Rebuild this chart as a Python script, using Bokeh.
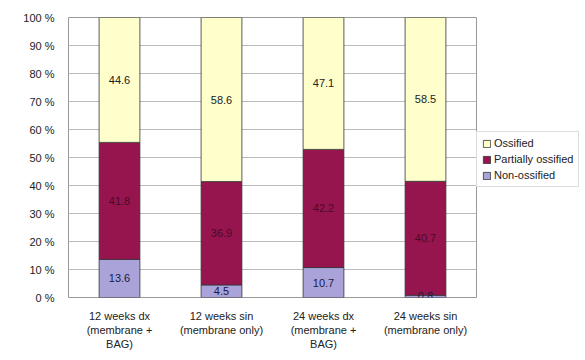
from bokeh.plotting import figure
from bokeh.models import ColumnDataSource, Legend, LegendItem, FixedTicker, CustomJSTickFormatter
from bokeh.core.properties import value
from bokeh.embed import file_html
from bokeh.resources import INLINE

categories = ["12 weeks dx\n(membrane +\nBAG)", "12 weeks sin\n(membrane only)",
              "24 weeks dx\n(membrane +\nBAG)", "24 weeks sin\n(membrane only)"]
non_ossified = [13.6, 4.5, 10.7, 0.8]
partially_ossified = [41.8, 36.9, 42.2, 40.7]
ossified = [44.6, 58.6, 47.1, 58.5]
series_names = ["Non-ossified", "Partially ossified", "Ossified"]
y_ticks = [0, 10, 20, 30, 40, 50, 60, 70, 80, 90, 100]

colors = ["#A9A3DA", "#96154F", "#FFFFCC"]
FONT = "Liberation Sans"

src = ColumnDataSource(dict(cat=categories, non=non_ossified, part=partially_ossified, oss=ossified))

p = figure(x_range=categories, y_range=(0, 100), width=585, height=360,
           frame_width=408, frame_height=280,
           output_backend="svg", toolbar_location=None,
           min_border_left=68, min_border_right=0, min_border_top=17, min_border_bottom=63)

rs = p.vbar_stack(["non", "part", "oss"], x="cat", width=0.4, source=src,
                  color=colors, line_color="#333333", line_width=0.8)

# labels at segment midpoints
mids_x, mids_y, texts, tcol = [], [], [], []
for i, c in enumerate(categories):
    base = 0
    for vals, col in zip([non_ossified, partially_ossified, ossified], ["#1a1a40", "#4a0a26", "#222222"]):
        v = vals[i]
        mids_x.append(c)
        mids_y.append(base + v / 2)
        texts.append(f"{v:.1f}")
        tcol.append(col)
        base += v
p.text(x=mids_x, y=mids_y, text=texts, text_color=tcol, text_align="center",
       text_baseline="middle", text_font=value(FONT), text_font_size="11px")

p.yaxis.ticker = FixedTicker(ticks=y_ticks)
p.yaxis.formatter = CustomJSTickFormatter(code="return tick + ' %';")
p.yaxis.major_label_text_font = FONT
p.yaxis.major_label_text_font_size = "11px"
p.yaxis.major_label_text_color = "#222222"
p.yaxis.axis_line_color = None
p.yaxis.major_tick_line_color = None
p.yaxis.minor_tick_line_color = None
p.yaxis.major_label_standoff = 8

p.xaxis.major_label_text_font = FONT
p.xaxis.major_label_text_font_size = "11px"
p.xaxis.major_label_text_color = "#222222"
p.xaxis.axis_line_color = None
p.xaxis.major_tick_line_color = None
p.xaxis.major_label_standoff = 6

p.xgrid.grid_line_color = None
p.ygrid.grid_line_color = "#BBBBBB"
p.ygrid.grid_line_width = 1
p.outline_line_color = "#999999"
p.outline_line_width = 1
p.background_fill_color = "white"
p.border_fill_color = "white"
p.x_range.range_padding = 0

items = [LegendItem(label=series_names[2], renderers=[rs[2]]),
         LegendItem(label=series_names[1], renderers=[rs[1]]),
         LegendItem(label=series_names[0], renderers=[rs[0]])]
legend = Legend(items=items, location=(0, 110), label_text_font=FONT,
                label_text_font_size="11px", label_text_color="#222222",
                glyph_width=9, glyph_height=9, label_height=12, spacing=4,
                padding=5, margin=5, label_standoff=3,
                border_line_color="#BBBBBB", background_fill_color="white")
p.add_layout(legend, "right")

open("out.html", "w").write(file_html(p, INLINE))
